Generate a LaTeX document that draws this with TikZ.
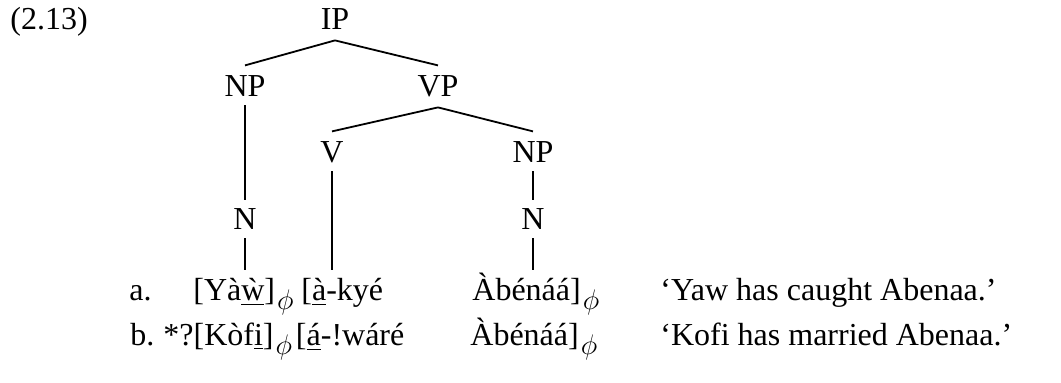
\documentclass[tikz,border=0pt]{standalone}
\usepackage{fontspec}
\setmainfont{Liberation Serif}
% phonological-phrase subscript
\newcommand{\phph}{\hspace{1pt}\raisebox{-4.5pt}{\scalebox{0.82}{$\phi$}}}
\begin{document}
\begin{tikzpicture}[x=0.5pt,y=-0.5pt,
  every node/.style={font=\fontsize{16}{19}\selectfont},
  cat/.style={anchor=base, inner xsep=0pt, inner ysep=5pt, text height=10.6pt, text depth=0pt},
  txt/.style={anchor=base west, inner sep=0pt},
  branch/.style={line width=0.9pt},
  stem/.style={branch, shorten <=-1pt, shorten >=-1pt}]
\useasboundingbox (0,0) rectangle (1061,383);

% example number
\node[txt] (num) at (10,30) {(2.13)};

% tree categories
\node[cat] (IP)  at (335,30)  {IP};
\node[cat] (NPa) at (245,97)  {NP};
\node[cat] (VP)  at (438,97)  {VP};
\node[cat] (V)   at (332,163) {V};
\node[cat] (NPb) at (533,163) {NP};
\node[cat] (Na)  at (245,230) {N};
\node[cat] (Nb)  at (533,230) {N};

% tops of the terminal stems
\coordinate (wNa) at (245,268);
\coordinate (wV)  at (332,268);
\coordinate (wNb) at (533,268);

% branches
\draw[branch] (IP.south) -- (NPa.north);
\draw[branch] (IP.south) -- (VP.north);
\draw[branch] (VP.south) -- (V.north);
\draw[branch] (VP.south) -- (NPb.north);
\draw[stem] (NPa.south) -- (Na.north);
\draw[stem] (NPb.south) -- (Nb.north);
\draw[stem] (Na.south) -- (wNa);
\draw[stem] (V.south) -- (wV);
\draw[stem] (Nb.south) -- (wNb);

% example a
\node[txt] (la) at (129,301) {a.};
\node[txt] (a1) at (193,301) {[Yà\underline{ẁ}]\phph};
\node[txt] (a2) at (301,301) {[\underline{à}-kyé};
\node[txt] (a3) at (472,301) {Àbénáá]\phph};
\node[txt] (ta) at (660,301) {‘Yaw has caught Abenaa.’};

% example b
\node[txt] (lb) at (130,346) {b.};
\node[txt] (b1) at (163,346) {*?[Kòf\underline{i}]\phph\hspace{2pt}[\underline{á}-!wáré};
\node[txt] (b3) at (470,346) {Àbénáá]\phph};
\node[txt] (tb) at (660,346) {‘Kofi has married Abenaa.’};
\end{tikzpicture}
\end{document}
